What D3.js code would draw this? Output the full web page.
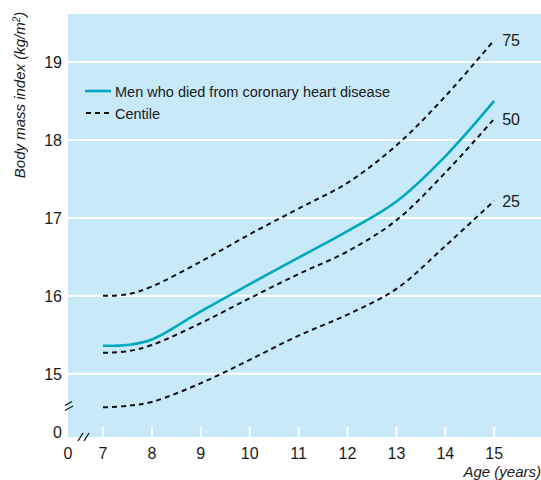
<!DOCTYPE html>
<html>
<head>
<meta charset="utf-8">
<script src="https://cdn.jsdelivr.net/npm/d3@7"></script>
<style>
  body { margin: 0; background: #fff; }
  svg text { font-family: "Liberation Sans Narrow", "Arial Narrow", "Liberation Sans", Arial, sans-serif; fill: #1a1a1a; }
</style>
</head>
<body>
<svg id="chart" width="541" height="480"></svg>
<script>
// ---- data ----
const ages = [7, 7.5, 8, 9, 10, 11, 12, 13, 14, 15];
const menCHD = [15.36, 15.37, 15.44, 15.80, 16.15, 16.49, 16.83, 17.21, 17.79, 18.50];
const centile75 = [16.00, 16.02, 16.12, 16.44, 16.79, 17.12, 17.45, 17.93, 18.56, 19.28];
const centile50 = [15.27, 15.29, 15.37, 15.65, 15.97, 16.28, 16.57, 16.97, 17.58, 18.27];
const centile25 = [14.57, 14.59, 14.64, 14.88, 15.18, 15.49, 15.76, 16.09, 16.64, 17.22];
const centileNames = ["75", "50", "25"];
const xTicks = [7, 8, 9, 10, 11, 12, 13, 14, 15];
const yTicks = [15, 16, 17, 18, 19];
const legendLabels = ["Men who died from coronary heart disease", "Centile"];

const svg = d3.select("#chart");
const pLeft = 68, pRight = 541, pTop = 14, pBottom = 437;

const x = d3.scaleLinear().domain([6.284, 15.957]).range([pLeft, pRight]);
const y = d3.scaleLinear().domain([14.19, 19.615]).range([pBottom, pTop]);

// background
svg.append("rect").attr("x", pLeft).attr("y", pTop)
  .attr("width", pRight - pLeft).attr("height", pBottom - pTop)
  .attr("fill", "#c7e9f8");

// grid lines
svg.append("g").selectAll("line").data(yTicks).join("line")
  .attr("x1", pLeft).attr("x2", pRight)
  .attr("y1", d => y(d)).attr("y2", d => y(d))
  .attr("stroke", "#fff").attr("stroke-width", 2);

// x ticks (white, inside)
svg.append("g").selectAll("line").data(xTicks).join("line")
  .attr("x1", d => x(d)).attr("x2", d => x(d))
  .attr("y1", pBottom - 10).attr("y2", pBottom)
  .attr("stroke", "#fff").attr("stroke-width", 2);

// x tick labels
svg.append("g").selectAll("text").data(xTicks).join("text")
  .attr("x", d => x(d)).attr("y", 459)
  .attr("text-anchor", "middle").attr("font-size", 16)
  .text(d => d);
svg.append("text").attr("x", pLeft).attr("y", 459)
  .attr("text-anchor", "middle").attr("font-size", 16).text("0");

// y tick labels
svg.append("g").selectAll("text").data(yTicks).join("text")
  .attr("x", 62).attr("y", d => y(d) + 6)
  .attr("text-anchor", "end").attr("font-size", 16)
  .text(d => d);
svg.append("text").attr("x", 62).attr("y", 438)
  .attr("text-anchor", "end").attr("font-size", 16).text("0");

// axis breaks
const brk = svg.append("g").attr("stroke", "#1a1a1a").attr("stroke-width", 1.4);
brk.append("line").attr("x1", 65).attr("y1", 405.5).attr("x2", 72).attr("y2", 401.5);
brk.append("line").attr("x1", 65).attr("y1", 410.5).attr("x2", 73).attr("y2", 406);
brk.append("line").attr("x1", 78).attr("y1", 441).attr("x2", 83).attr("y2", 433);
brk.append("line").attr("x1", 84).attr("y1", 441).attr("x2", 89).attr("y2", 433);

// lines
const line = d3.line().x(d => x(d[0])).y(d => y(d[1])).curve(d3.curveCatmullRom.alpha(0.5));
const centiles = [centile75, centile50, centile25];
centiles.forEach((vals, i) => {
  const pts = ages.map((a, j) => [a, vals[j]]);
  svg.append("path").attr("d", line(pts))
    .attr("fill", "none").attr("stroke", "#111")
    .attr("stroke-width", 2).attr("stroke-dasharray", "5,4");
  svg.append("text").attr("x", x(15) + 8).attr("y", y(vals[vals.length - 1]) + 6)
    .attr("font-size", 16).text(centileNames[i]);
});
svg.append("path").attr("d", line(ages.map((a, j) => [a, menCHD[j]])))
  .attr("fill", "none").attr("stroke", "#00a9bd").attr("stroke-width", 2.6);

// legend
svg.append("line").attr("x1", 85).attr("x2", 111).attr("y1", 91).attr("y2", 91)
  .attr("stroke", "#00a9bd").attr("stroke-width", 2.6);
svg.append("line").attr("x1", 86).attr("x2", 111).attr("y1", 113).attr("y2", 113)
  .attr("stroke", "#111").attr("stroke-width", 2).attr("stroke-dasharray", "5,4");
svg.append("text").attr("x", 115).attr("y", 97).attr("font-size", 15.5)
  .attr("textLength", 275).attr("lengthAdjust", "spacingAndGlyphs").text(legendLabels[0]);
svg.append("text").attr("x", 115).attr("y", 119).attr("font-size", 15.5)
  .attr("textLength", 45).attr("lengthAdjust", "spacingAndGlyphs").text(legendLabels[1]);

// axis titles
svg.append("text").attr("transform", "translate(25,95) rotate(-90)")
  .attr("text-anchor", "middle").attr("font-size", 15).attr("font-style", "italic")
  .html('Body mass index (kg/m<tspan baseline-shift="super" font-size="10">2</tspan>)');
svg.append("text").attr("x", 541).attr("y", 477).attr("text-anchor", "end")
  .attr("font-size", 15).attr("font-style", "italic").text("Age (years)");
</script>
</body>
</html>
